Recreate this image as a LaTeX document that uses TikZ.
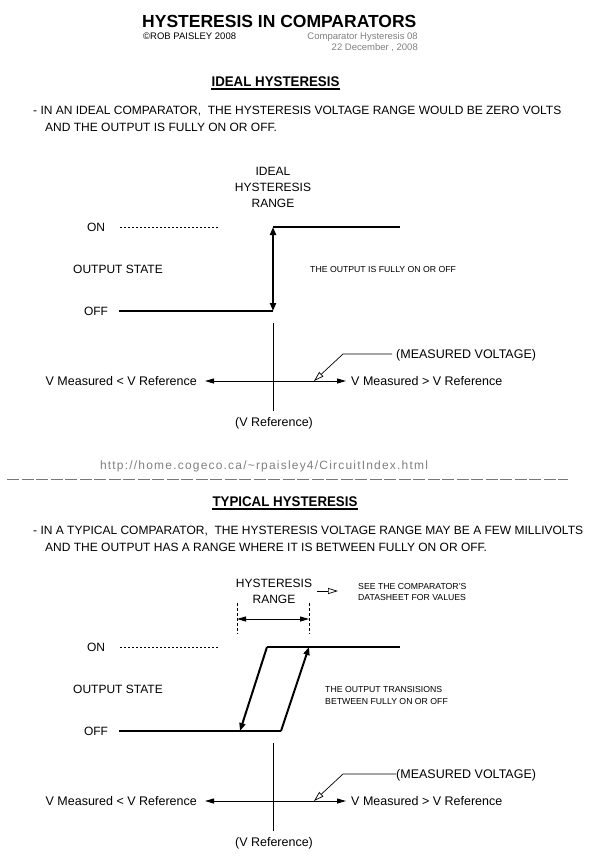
\documentclass[tikz,border=0pt]{standalone}
\usepackage{fontspec}
\setmainfont{Liberation Sans}
\newfontfamily\narrowfont{Liberation Sans}[FakeStretch=0.95]
\usetikzlibrary{arrows.meta}
\definecolor{refgray}{RGB}{128,128,128}
\definecolor{sepgray}{RGB}{120,120,120}
\tikzset{
  ttl/.style={inner sep=0pt, text height=12.4pt, text depth=0pt, font=\bfseries\fontsize{17.5}{19}\selectfont},
  credit/.style={inner sep=0pt, text height=6.8pt, text depth=0pt, font=\fontsize{9.5}{11}\selectfont},
  head/.style={inner sep=0pt, text height=10pt, text depth=0pt, font=\narrowfont\bfseries\fontsize{14}{16}\selectfont},
  body/.style={inner sep=0pt, text height=8.6pt, text depth=0pt, font=\fontsize{12}{14}\selectfont},
  lab/.style={inner sep=0pt, text height=9pt, text depth=0pt, font=\fontsize{12.5}{14}\selectfont},
  small/.style={inner sep=0pt, text height=6.3pt, text depth=0pt, font=\fontsize{8.7}{10}\selectfont},
  urlst/.style={inner sep=0pt, text height=9pt, text depth=0pt, text=refgray, font=\fontsize{12}{14}\selectfont\addfontfeature{LetterSpace=10}},
  uline/.style={line width=1.6pt},
  thickline/.style={line width=2pt},
  axis/.style={line width=1pt},
  leader/.style={line width=0.7pt},
  dotline/.style={line width=0.8pt, dash pattern=on 2pt off 2pt},
  dashv/.style={line width=0.8pt, dash pattern=on 3pt off 2pt},
  sep/.style={line width=0.9pt, draw=sepgray, dash pattern=on 12pt off 2.5pt},
  fatboth/.style={{Triangle[length=8pt,width=6pt]}-{Triangle[length=8pt,width=6pt]}},
  fatend/.style={-{Triangle[length=8pt,width=6pt]}},
  thinboth/.style={{Triangle[length=9pt,width=5pt]}-{Triangle[length=9pt,width=5pt]}},
  hollowend/.style={-{Triangle[open,length=10pt,width=6pt]}},
}
\begin{document}
\begin{tikzpicture}[x=1pt,y=-1pt]
\useasboundingbox[fill=white] (0,0) rectangle (600,860);

% header
\node[ttl, anchor=west] (title) at (142,21) {HYSTERESIS IN COMPARATORS};
\node[credit, anchor=west] (author) at (143,36) {©ROB PAISLEY 2008};
\node[credit, anchor=east, text=refgray] (file) at (418,36) {Comparator Hysteresis 08};
\node[credit, anchor=east, text=refgray] (date) at (418,47) {22 December , 2008};

% ---------------- ideal section
\node[head] (h1) at (275.5,81) {IDEAL HYSTERESIS};
\draw[uline] ([yshift=-2.5pt]h1.south west) -- ([yshift=-2.5pt]h1.south east);
\node[body, anchor=west] (p1a) at (33,110) {- IN AN IDEAL COMPARATOR,\ \ THE HYSTERESIS VOLTAGE RANGE WOULD BE ZERO VOLTS};
\node[body, anchor=west] (p1b) at (45,127) {AND THE OUTPUT IS FULLY ON OR OFF.};

\node[body] (r1a) at (273,171) {IDEAL};
\node[body] (r1b) at (273,187) {HYSTERESIS};
\node[body] (r1c) at (273,203) {RANGE};

\node[body] (on1) at (96,227) {ON};
\node[body, anchor=west] (os1) at (73,269) {OUTPUT STATE};
\node[body] (off1) at (96,311) {OFF};
\node[small, anchor=west] (fo1) at (310,269) {THE OUTPUT IS FULLY ON OR OFF};

\coordinate (dl1) at (120,227);
\coordinate (dr1) at (218,227);
\coordinate (a1) at (119,311);
\coordinate (b1) at (273,311);
\coordinate (c1) at (273,227);
\coordinate (d1) at (400,227);
\draw[dotline] (dl1) -- (dr1);
\draw[thickline] (a1) -- (b1);
\draw[thickline] (c1) -- (d1);
\draw[thickline, fatboth] (b1) -- (c1);

\coordinate (vt1) at (273,323);
\coordinate (vb1) at (273,411);
\draw[axis] (vt1) -- (vb1);
\node[lab, anchor=east] (lt1) at (197,381) {V Measured < V Reference};
\node[lab, anchor=west] (gt1) at (351,381) {V Measured > V Reference};
\draw[axis, thinboth] ([xshift=8pt]lt1.east) -- ([xshift=-5pt]gt1.west);
\node[lab, anchor=west] (mv1) at (396,354) {(MEASURED VOLTAGE)};
\coordinate (mk1) at (343,354);
\coordinate (mt1) at (314,381);
\draw[leader, hollowend] ([xshift=-4pt]mv1.west) -- (mk1) -- (mt1);
\node[lab] (vr1) at (274,422) {(V Reference)};

% url and separator
\node[urlst] (url) at (264,465) {http://home.cogeco.ca/\textasciitilde rpaisley4/CircuitIndex.html};
\coordinate (s1) at (7,479);
\coordinate (s2) at (568,479);
\draw[sep] (s1) -- (s2);

% ---------------- typical section
\node[head] (h2) at (285,501) {TYPICAL HYSTERESIS};
\draw[uline] ([yshift=-2.5pt]h2.south west) -- ([yshift=-2.5pt]h2.south east);
\node[body, anchor=west] (p2a) at (33,530) {- IN A TYPICAL COMPARATOR,\ \ THE HYSTERESIS VOLTAGE RANGE MAY BE A FEW MILLIVOLTS};
\node[body, anchor=west] (p2b) at (45,547) {AND THE OUTPUT HAS A RANGE WHERE IT IS BETWEEN FULLY ON OR OFF.};

\node[body] (r2a) at (274,583) {HYSTERESIS};
\node[body] (r2b) at (274,599) {RANGE};
\node[small, anchor=west] (see1) at (358,586) {SEE THE COMPARATOR'S};
\node[small, anchor=west] (see2) at (358,597) {DATASHEET FOR VALUES};
\coordinate (sa) at (317,591);
\coordinate (sb) at (338,591);
\draw[leader, hollowend] (sa) -- (sb);

\coordinate (hl1) at (237,603);
\coordinate (hl2) at (237,634);
\coordinate (hr1) at (309,603);
\coordinate (hr2) at (309,634);
\draw[dashv] (hl1) -- (hl2);
\draw[dashv] (hr1) -- (hr2);
\coordinate (hm1) at (237,619);
\coordinate (hm2) at (309,619);
\draw[axis, thinboth] (hm1) -- (hm2);

\node[body] (on2) at (96,647) {ON};
\node[body, anchor=west] (os2) at (73,689) {OUTPUT STATE};
\node[body] (off2) at (96,731) {OFF};
\node[small, anchor=west] (tr1) at (325,689) {THE OUTPUT TRANSISIONS};
\node[small, anchor=west] (tr2) at (325,701) {BETWEEN FULLY ON OR OFF};

\coordinate (dl2) at (120,647);
\coordinate (dr2) at (218,647);
\coordinate (a2) at (119,731);
\coordinate (b2) at (281,731);
\coordinate (e2) at (240,731);
\coordinate (c2) at (267,647);
\coordinate (f2) at (309,647);
\coordinate (d2) at (400,647);
\draw[dotline] (dl2) -- (dr2);
\draw[thickline] (a2) -- (b2);
\draw[thickline] (c2) -- (d2);
\draw[thickline, fatend] (c2) -- (e2);
\draw[thickline, fatend] (b2) -- (f2);

\coordinate (vt2) at (273,743);
\coordinate (vb2) at (273,831);
\draw[axis] (vt2) -- (vb2);
\node[lab, anchor=east] (lt2) at (197,801) {V Measured < V Reference};
\node[lab, anchor=west] (gt2) at (351,801) {V Measured > V Reference};
\draw[axis, thinboth] ([xshift=8pt]lt2.east) -- ([xshift=-5pt]gt2.west);
\node[lab, anchor=west] (mv2) at (396,774) {(MEASURED VOLTAGE)};
\coordinate (mk2) at (343,774);
\coordinate (mt2) at (314,801);
\draw[leader, hollowend] (mv2.west) -- (mk2) -- (mt2);
\node[lab] (vr2) at (274,842) {(V Reference)};
\end{tikzpicture}
\end{document}
